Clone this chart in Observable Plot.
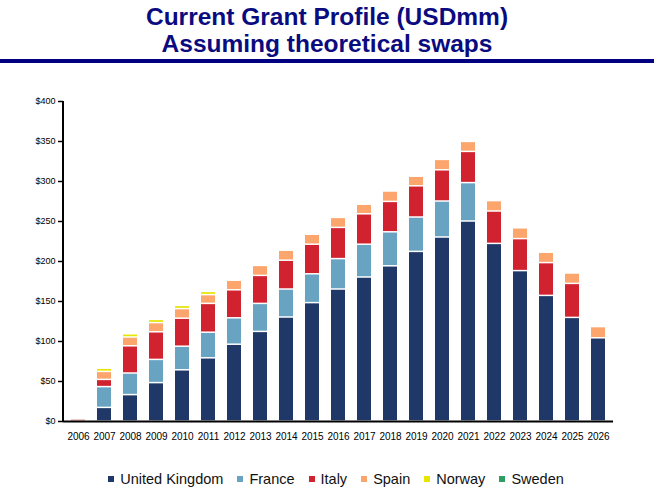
<!DOCTYPE html>
<html><head><meta charset="utf-8">
<script src="https://cdn.jsdelivr.net/npm/d3@7"></script>
<script src="https://cdn.jsdelivr.net/npm/@observablehq/plot@0.6"></script>
<style>
body{margin:0;background:#fff;font-family:"Liberation Sans",Arial,sans-serif;width:654px;}
#title{height:59px;text-align:center;color:#0b0b80;font-weight:bold;font-size:24.5px;line-height:27px;padding-top:3px;box-sizing:border-box;}
#rule{height:4px;background:#000080;}
#chart svg{display:block;}
#legend{height:52px;display:flex;align-items:center;justify-content:center;padding-left:18px;box-sizing:border-box;font-size:14.5px;color:#111;}
.item{display:flex;align-items:center;margin:0 7px;}
.sw{width:6px;height:6px;margin-right:6px;}
</style></head>
<body>
<div id="title">Current Grant Profile (USDmm)<br>Assuming theoretical swaps</div>
<div id="rule"></div>
<div id="chart"></div>
<div id="legend"></div>
<script>
const years  = [2006,2007,2008,2009,2010,2011,2012,2013,2014,2015,2016,2017,2018,2019,2020,2021,2022,2023,2024,2025,2026];
const series = ["United Kingdom","France","Italy","Spain","Norway","Sweden"];
const colors = ["#1f3868","#68a3c2","#d0232f","#fca56c","#e6e600","#2f9e62"];
const uk     = [0,17,33,48,64,79,96,112,130,148,165,180,194,212,230,250,222,188,157,129.5,104];
const france = [0,26,27,29,29.5,32,33,35,35,36,38,41,42.5,43,45,48,0,0,0,0,0];
const italy  = [2.5,9,34,34.5,35,36,35,35,36,37,39,38,38,39,39,39,40.5,40,41,42.5,0];
const spain  = [0,10,11,11.5,12,11,12,12.5,12.5,12.5,12.5,12,13,12,13,12.5,13,13.5,13,13,14];
const norway = [0,4,4,4,4,4,0,0,0,0,0,0,0,0,0,0,0,0,0,0,0];
const sweden = [0,0,0,0,0,0,0,0,0,0,0,0,0,0,0,0,0,0,0,0,0];
const values = [uk,france,italy,spain,norway,sweden];

const data = [];
series.forEach((s,i)=>years.forEach((y,j)=>{ if (values[i][j] > 0) data.push({year:String(y), series:s, value:values[i][j]}); }));

const chart = Plot.plot({
  width: 654, height: 390,
  marginTop: 38, marginBottom: 32, marginLeft: 63, marginRight: 41,
  style: {fontFamily: "'Liberation Sans', Arial, sans-serif", background: "white", color: "black", overflow: "visible"},
  x: {domain: years.map(String), paddingInner: 0.47, paddingOuter: 0.235, label: null},
  y: {domain: [0,400], label: null},
  color: {domain: series, range: colors},
  marks: [
    Plot.barY(data, {x: "year", y: "value", fill: "series", insetTop: 0.75, insetBottom: 0.75}),
    Plot.axisX({tickSize: 0, tickPadding: 11, fontSize: 10, label: null}),
    Plot.axisY({ticks: d3.range(0, 401, 50), tickFormat: d => "$" + d, tickSize: 5, tickPadding: 3, fontSize: 9, label: null, strokeWidth: 1.5}),
    Plot.ruleY([0], {stroke: "black", strokeWidth: 2})
  ]
});
const ys = chart.scale("y");
d3.select(chart).append("line")
  .attr("x1", 63).attr("x2", 63)
  .attr("y1", ys.apply(400)).attr("y2", ys.apply(0) + 1)
  .attr("stroke", "black").attr("stroke-width", 2);
document.getElementById("chart").append(chart);

const leg = d3.select("#legend");
series.forEach((s,i)=>{
  const it = leg.append("div").attr("class","item");
  it.append("div").attr("class","sw").style("background", colors[i]);
  it.append("span").text(s);
});
</script>
</body></html>
